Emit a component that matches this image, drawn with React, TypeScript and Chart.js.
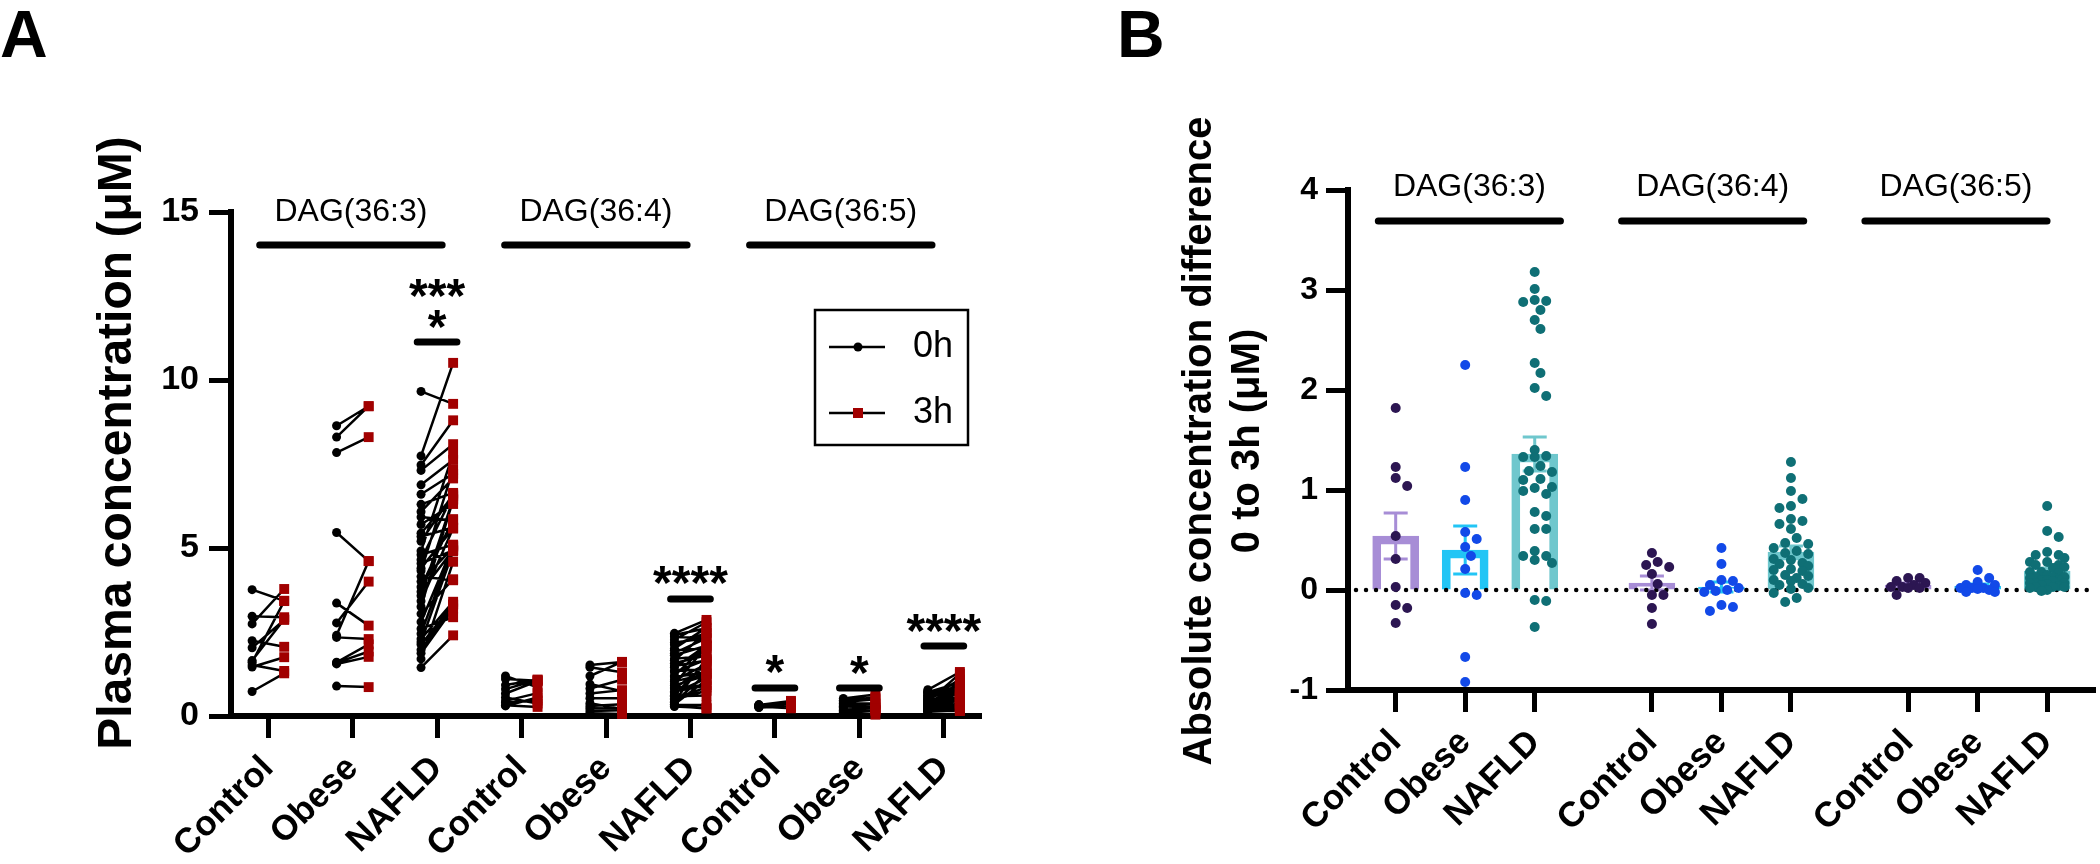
import React, { useEffect, useRef } from 'react';
import { Chart, registerables } from 'chart.js';

Chart.register(...registerables);

const FONT = '"Liberation Sans", Arial, sans-serif';

// ---------- labels ----------
const GROUP_NAMES = ['DAG(36:3)', 'DAG(36:4)', 'DAG(36:5)'];
const COHORTS = ['Control', 'Obese', 'NAFLD'];
const LEGEND_LABELS = ['0h', '3h'];
const Y_TITLE_A = 'Plasma concentration (\u03bcM)';
const Y_TITLE_B = ['Absolute concentration difference', '0 to 3h (\u03bcM)'];

// ---------- Panel A: paired plasma concentrations (uM) ----------
const DAG363_CONTROL_0H = [3.76, 2.97, 2.74, 2.24, 2.03, 1.65, 1.60, 1.52, 1.46, 0.73];
const DAG363_CONTROL_3H = [3.43, 2.94, 3.78, 2.06, 2.86, 2.88, 3.42, 1.34, 1.75, 1.27];
const DAG363_OBESE_0H = [8.64, 8.30, 7.84, 5.46, 2.40, 2.77, 3.36, 1.60, 1.58, 1.55, 2.34, 0.89];
const DAG363_OBESE_3H = [9.22, 9.22, 8.30, 4.61, 4.61, 4.00, 2.69, 2.13, 1.92, 1.76, 2.29, 0.86];
const DAG363_NAFLD_0H = [9.66, 7.74, 7.47, 7.31, 6.88, 6.60, 6.30, 6.08, 5.92, 5.70, 5.44, 5.34, 5.20, 4.91, 4.80, 4.65, 4.54, 4.40, 4.32, 4.15, 4.00, 3.84, 3.70, 3.58, 3.42, 3.25, 3.04, 2.80, 2.60, 2.45, 2.29, 2.20, 2.13, 1.97, 1.87, 1.70, 1.44];
const DAG363_NAFLD_3H = [9.29, 10.51, 8.80, 8.09, 7.62, 7.21, 6.64, 7.07, 5.82, 6.31, 6.54, 5.61, 6.60, 7.81, 5.10, 6.59, 4.93, 5.58, 7.33, 4.04, 5.02, 5.86, 4.94, 6.46, 5.59, 6.43, 4.07, 5.07, 2.94, 5.06, 3.40, 4.90, 3.32, 3.31, 3.20, 4.59, 2.40];

const DAG364_CONTROL_0H = [1.19, 1.10, 0.92, 0.80, 0.67, 0.55, 0.45, 0.40, 0.32, 0.30];
const DAG364_CONTROL_3H = [0.85, 1.05, 1.08, 1.08, 1.04, 0.37, 0.68, 0.46, 0.27, 0.55];
const DAG364_OBESE_0H = [1.52, 1.45, 1.19, 0.95, 0.82, 0.67, 0.53, 0.38, 0.30, 0.23, 0.15, 0.08];
const DAG364_OBESE_3H = [1.61, 1.30, 1.61, 0.74, 1.08, 0.77, 0.53, 0.21, 0.35, 0.22, 0.17, 0.06];
const DAG364_NAFLD_0H = [2.46, 2.41, 2.35, 2.27, 2.19, 2.12, 2.01, 1.96, 1.87, 1.81, 1.70, 1.66, 1.57, 1.49, 1.44, 1.35, 1.31, 1.20, 1.16, 1.07, 1.03, 0.95, 0.91, 0.84, 0.81, 0.73, 0.69, 0.62, 0.59, 0.52, 0.49, 0.43, 0.41, 0.35, 0.33, 0.30, 0.28];
const DAG364_NAFLD_3H = [2.86, 2.61, 2.32, 2.79, 2.31, 2.47, 2.63, 2.02, 2.32, 2.09, 1.80, 2.49, 1.81, 1.65, 2.10, 1.39, 1.68, 2.10, 1.30, 1.54, 1.25, 2.07, 1.21, 0.92, 1.51, 0.91, 1.12, 1.61, 0.61, 0.85, 0.75, 1.71, 1.26, 1.07, 0.33, 0.22, 0.24];

const DAG365_CONTROL_0H = [0.31, 0.29, 0.33, 0.27, 0.30, 0.32, 0.26, 0.28, 0.34, 0.25];
const DAG365_CONTROL_3H = [0.40, 0.41, 0.45, 0.32, 0.37, 0.35, 0.28, 0.23, 0.36, 0.28];
const DAG365_OBESE_0H = [0.52, 0.47, 0.42, 0.37, 0.33, 0.29, 0.25, 0.21, 0.17, 0.13, 0.10, 0.06];
const DAG365_OBESE_3H = [0.64, 0.55, 0.50, 0.37, 0.35, 0.27, 0.23, 0.23, 0.19, 0.18, 0.15, 0.04];
const DAG365_NAFLD_0H = [0.78, 0.74, 0.71, 0.69, 0.66, 0.62, 0.60, 0.57, 0.55, 0.52, 0.50, 0.48, 0.46, 0.44, 0.42, 0.40, 0.38, 0.36, 0.35, 0.33, 0.31, 0.30, 0.28, 0.27, 0.25, 0.24, 0.23, 0.21, 0.20, 0.19, 0.18, 0.17, 0.16, 0.15, 0.14, 0.14, 0.13];
const DAG365_NAFLD_3H = [1.31, 0.84, 0.99, 0.72, 1.01, 0.69, 0.82, 0.70, 0.93, 0.54, 1.09, 0.66, 0.53, 0.69, 1.26, 0.43, 0.55, 0.68, 0.45, 0.56, 0.36, 0.45, 0.56, 0.26, 0.60, 0.36, 0.48, 0.28, 0.38, 0.28, 0.38, 0.20, 0.29, 0.15, 0.18, 0.20, 0.16];

// ---------- Panel B: absolute difference 0 to 3h (uM) ----------
const DIFF363_CONTROL = [1.82, 1.23, 1.12, 1.04, 0.54, 0.31, 0.03, -0.15, -0.18, -0.33];
const DIFF363_OBESE = [2.25, 1.23, 0.90, 0.58, 0.51, 0.43, 0.34, 0.21, -0.05, -0.03, -0.67, -0.92];
const DIFF363_NAFLD = [3.18, 3.01, 2.89, 2.88, 2.90, 2.80, 2.70, 2.61, 2.27, 2.17, 2.02, 1.94, 1.40, 1.34, 1.33, 1.33, 1.24, 1.19, 1.18, 1.10, 1.11, 1.02, 1.03, 0.99, 0.96, 0.74, 0.78, 0.61, 0.61, 0.39, 0.34, 0.34, 0.30, 0.27, -0.10, -0.11, -0.37];
const DIFF364_CONTROL = [0.37, 0.25, 0.28, 0.23, 0.16, 0.06, -0.05, -0.05, -0.18, -0.34];
const DIFF364_OBESE = [0.42, 0.26, 0.10, 0.09, 0.05, 0.02, 0.00, -0.01, -0.02, -0.15, -0.17, -0.21];
const DIFF364_NAFLD = [1.28, 1.12, 0.99, 0.91, 0.84, 0.82, 0.71, 0.69, 0.66, 0.61, 0.52, 0.47, 0.46, 0.42, 0.39, 0.37, 0.36, 0.31, 0.30, 0.27, 0.26, 0.24, 0.21, 0.20, 0.19, 0.15, 0.14, 0.12, 0.10, 0.09, 0.06, 0.05, 0.02, 0.01, -0.03, -0.08, -0.12];
const DIFF365_CONTROL = [0.12, 0.12, 0.09, 0.07, 0.05, 0.03, 0.03, 0.02, 0.02, -0.05];
const DIFF365_OBESE = [0.20, 0.12, 0.08, 0.05, 0.05, 0.02, 0.02, 0.02, 0.01, 0.00, -0.02, -0.02];
const DIFF365_NAFLD = [0.84, 0.59, 0.53, 0.38, 0.35, 0.35, 0.32, 0.28, 0.28, 0.25, 0.25, 0.23, 0.22, 0.18, 0.18, 0.17, 0.15, 0.13, 0.13, 0.13, 0.12, 0.10, 0.10, 0.10, 0.09, 0.07, 0.07, 0.07, 0.06, 0.05, 0.04, 0.03, 0.03, 0.03, 0.02, 0.00, -0.01];

// bar heights (mean) and error bars (SEM)
const DIFF_MEANS = [0.54, 0.40, 1.36, 0.07, 0.03, 0.38, 0.05, 0.04, 0.19];
const DIFF_SEMS = [0.23, 0.24, 0.17, 0.07, 0.05, 0.06, 0.02, 0.02, 0.03];

// ---------- styles ----------
const RED = '#a10000';
const BAR_COLORS = ['#a78dd6', '#22c5f5', '#6fc7cd'];
const DOT_COLORS = ['#2c1652', '#1249e8', '#0f6f75'];

const A_POS = [0, 1, 2, 3, 4, 5, 6, 7, 8];
const B_POS = [0, 1, 2, 3.686, 4.686, 5.686, 7.372, 8.372, 9.372];

const PAIRS_A = [
  [DAG363_CONTROL_0H, DAG363_CONTROL_3H], [DAG363_OBESE_0H, DAG363_OBESE_3H], [DAG363_NAFLD_0H, DAG363_NAFLD_3H],
  [DAG364_CONTROL_0H, DAG364_CONTROL_3H], [DAG364_OBESE_0H, DAG364_OBESE_3H], [DAG364_NAFLD_0H, DAG364_NAFLD_3H],
  [DAG365_CONTROL_0H, DAG365_CONTROL_3H], [DAG365_OBESE_0H, DAG365_OBESE_3H], [DAG365_NAFLD_0H, DAG365_NAFLD_3H],
];
const DIFFS_B = [
  DIFF363_CONTROL, DIFF363_OBESE, DIFF363_NAFLD,
  DIFF364_CONTROL, DIFF364_OBESE, DIFF364_NAFLD,
  DIFF365_CONTROL, DIFF365_OBESE, DIFF365_NAFLD,
];

// significance marks of panel A (stars text lines, y of text centres and bar)
const SIG_A = [
  { pos: 2, stars: [['***', 12.83], ['*', 11.93]], bar: 11.13 },
  { pos: 5, stars: [['****', 4.29]], bar: 3.48 },
  { pos: 6, stars: [['*', 1.64]], bar: 0.83 },
  { pos: 7, stars: [['*', 1.61]], bar: 0.83 },
  { pos: 8, stars: [['****', 2.86]], bar: 2.08 },
];

function font(size: number, weight = 'normal') {
  return `${weight} ${size}px ${FONT}`;
}

// simple beeswarm: spreads overlapping points sideways (limited width)
function swarm(values: number[], center: number, rPx: number, xUnitPx: number, yUnitPx: number) {
  const idx = values.map((_, i) => i).sort((a, b) => values[b] - values[a]);
  const placed: { x: number; y: number }[] = [];
  const res: { x: number; y: number }[] = new Array(values.length);
  const d = 2 * rPx + 0.5;
  const step = d * 0.55;
  const maxOff = 22;
  for (const i of idx) {
    const yp = values[i] * yUnitPx;
    let off = 0;
    let bestScore = -1;
    for (let k = 0; k < 80; k++) {
      const cand = (k % 2 === 1 ? 1 : -1) * Math.ceil(k / 2) * step;
      if (Math.abs(cand) > maxOff) break;
      let minD = Infinity;
      for (const p of placed) minD = Math.min(minD, Math.hypot(p.x - cand, p.y - yp));
      if (minD >= d) { off = cand; bestScore = Infinity; break; }
      if (minD > bestScore) { bestScore = minD; off = cand; }
    }
    placed.push({ x: off, y: yp });
    res[i] = { x: center + off / xUnitPx, y: values[i] };
  }
  return res;
}

function axisCommon(size: number) {
  return {
    offset: false,
    grid: { display: true, offset: false, drawOnChartArea: false, drawTicks: true, tickLength: 22, tickWidth: 5, tickColor: '#000', color: '#000' },
    border: { display: true, color: '#000', width: 6 },
    ticks: { color: '#000', font: { family: FONT, size, weight: 'bold' as const } },
  };
}

function xLabelTicks(cm: any) {
  return { ...cm.ticks, font: { family: FONT, size: 35, weight: 'bold' }, autoSkip: false, minRotation: 45, maxRotation: 45, padding: 10, callback: (_v: any, i: number) => COHORTS[i % 3] };
}

function configA(): any {
  const OFF = 0.19;
  const pts0: any[] = [];
  const pts3: any[] = [];
  const lines: any[] = [];
  PAIRS_A.forEach(([a, b], gi) => {
    const cx = A_POS[gi];
    a.forEach((v, k) => {
      pts0.push({ x: cx - OFF, y: v });
      pts3.push({ x: cx + OFF, y: b[k] });
      lines.push({ x: cx - OFF, y: v }, { x: cx + OFF, y: b[k] }, { x: cx, y: null });
    });
  });

  const annot = {
    id: 'annotA',
    afterDraw(chart: any) {
      const { ctx, scales } = chart;
      const x = scales.x;
      const y = scales.y;
      ctx.save();
      ctx.fillStyle = '#000';
      ctx.strokeStyle = '#000';
      ctx.font = font(66, 'bold');
      ctx.textAlign = 'left';
      ctx.textBaseline = 'alphabetic';
      ctx.fillText('A', 0, 57);
      ctx.save();
      ctx.translate(118, 443);
      ctx.rotate(-Math.PI / 2);
      ctx.font = font(48, 'bold');
      ctx.textAlign = 'center';
      ctx.textBaseline = 'middle';
      ctx.fillText(Y_TITLE_A, 0, 0);
      ctx.restore();
      const unit = x.getPixelForValue(1) - x.getPixelForValue(0);
      const centres = [0.98, 3.88, 6.78];
      centres.forEach((c, i) => {
        const px = x.getPixelForValue(c);
        ctx.font = font(32);
        ctx.textAlign = 'center';
        ctx.textBaseline = 'middle';
        ctx.fillText(GROUP_NAMES[i], px, y.getPixelForValue(15.0));
        ctx.lineWidth = 7;
        ctx.lineCap = 'round';
        ctx.beginPath();
        const yl = y.getPixelForValue(14.02);
        ctx.moveTo(px - 1.08 * unit, yl);
        ctx.lineTo(px + 1.08 * unit, yl);
        ctx.stroke();
      });
      SIG_A.forEach((s) => {
        const px = x.getPixelForValue(s.pos);
        ctx.lineWidth = 7;
        ctx.lineCap = 'round';
        ctx.beginPath();
        const yb = y.getPixelForValue(s.bar);
        ctx.moveTo(px - 0.235 * unit, yb);
        ctx.lineTo(px + 0.235 * unit, yb);
        ctx.stroke();
        ctx.font = font(48, 'bold');
        ctx.textAlign = 'center';
        ctx.textBaseline = 'alphabetic';
        s.stars.forEach(([t, v]) => {
          ctx.fillText(t as string, px, y.getPixelForValue(v as number) + 0.57 * 48);
        });
      });
      const ca = chart.chartArea;
      const lx = ca.right - 166;
      const ly = ca.top + 98;
      ctx.lineWidth = 2.5;
      ctx.strokeRect(lx, ly, 153, 135);
      const rows = [ly + 37, ly + 103];
      rows.forEach((ry, i) => {
        ctx.lineWidth = 2.5;
        ctx.lineCap = 'butt';
        ctx.beginPath();
        ctx.moveTo(lx + 14, ry);
        ctx.lineTo(lx + 70, ry);
        ctx.stroke();
        if (i === 0) {
          ctx.beginPath();
          ctx.arc(lx + 43, ry, 4.5, 0, Math.PI * 2);
          ctx.fill();
        } else {
          ctx.fillStyle = RED;
          ctx.fillRect(lx + 38, ry - 5, 10, 10);
          ctx.fillStyle = '#000';
        }
        ctx.font = font(36);
        ctx.textAlign = 'left';
        ctx.textBaseline = 'middle';
        ctx.fillText(LEGEND_LABELS[i], lx + 98, ry);
      });
      ctx.restore();
    },
  };

  const cA = axisCommon(34);
  return {
    type: 'scatter',
    data: {
      datasets: [
        { type: 'scatter', label: '3h', data: pts3, pointStyle: 'rect', pointRadius: 7, backgroundColor: RED, borderColor: RED, borderWidth: 0, order: 0, clip: false },
        { type: 'scatter', label: '0h', data: pts0, pointStyle: 'circle', pointRadius: 4.5, backgroundColor: '#000', borderColor: '#000', borderWidth: 0, order: 1, clip: false },
        { type: 'line', label: 'pairs', data: lines, borderColor: '#000', borderWidth: 2.5, pointRadius: 0, spanGaps: false, tension: 0, order: 2, clip: false },
      ],
    },
    options: {
      responsive: true,
      maintainAspectRatio: false,
      animation: false,
      events: [],
      layout: { padding: { left: 131, right: 69, top: 212, bottom: 0 } },
      plugins: { legend: { display: false }, tooltip: { enabled: false } },
      scales: {
        x: {
          type: 'linear',
          min: -0.44,
          max: 8.44,
          offset: false,
          afterBuildTicks: (s: any) => { s.ticks = A_POS.map((v) => ({ value: v })); },
          afterFit: (s: any) => { s.height = 148; },
          grid: cA.grid,
          border: cA.border,
          ticks: xLabelTicks(cA),
        },
        y: {
          type: 'linear',
          min: 0,
          max: 15,
          afterFit: (s: any) => { s.width = 100; },
          grid: cA.grid,
          border: cA.border,
          ticks: { ...cA.ticks, stepSize: 5, padding: 10 },
        },
      },
    },
    plugins: [annot],
  };
}

function configB(): any {
  const X_UNIT = 69.8;
  const Y_UNIT = 100;
  const R = 5;
  const scatterSets = DIFFS_B.map((vals, i) => ({
    type: 'scatter',
    label: `${GROUP_NAMES[Math.floor(i / 3)]} ${COHORTS[i % 3]}`,
    data: swarm(vals, B_POS[i], R, X_UNIT, Y_UNIT),
    pointStyle: 'circle',
    pointRadius: R,
    backgroundColor: DOT_COLORS[i % 3],
    borderWidth: 0,
    order: 0,
    clip: false,
  }));
  const barSet = {
    type: 'bar',
    label: 'mean',
    data: B_POS.map((p, i) => ({ x: p, y: DIFF_MEANS[i] })),
    backgroundColor: 'rgba(255,255,255,0)',
    borderColor: B_POS.map((_, i) => BAR_COLORS[i % 3]),
    borderWidth: 8,
    borderSkipped: 'start',
    barThickness: 46,
    order: 10,
  };

  const annot = {
    id: 'annotB',
    afterDatasetDraw(chart: any, args: any) {
      if (args.meta.type !== 'bar') return;
      const { ctx, scales, chartArea } = chart;
      const x = scales.x;
      const y = scales.y;
      ctx.save();
      B_POS.forEach((p, i) => {
        const px = x.getPixelForValue(p);
        const yt = y.getPixelForValue(DIFF_MEANS[i] + DIFF_SEMS[i]);
        const yb = y.getPixelForValue(DIFF_MEANS[i] - DIFF_SEMS[i]);
        ctx.strokeStyle = BAR_COLORS[i % 3];
        ctx.lineWidth = 3;
        ctx.beginPath();
        ctx.moveTo(px, yt); ctx.lineTo(px, yb);
        ctx.moveTo(px - 12, yt); ctx.lineTo(px + 12, yt);
        ctx.moveTo(px - 12, yb); ctx.lineTo(px + 12, yb);
        ctx.stroke();
      });
      const y0 = y.getPixelForValue(0);
      ctx.strokeStyle = '#000';
      ctx.lineWidth = 4.5;
      ctx.lineCap = 'round';
      ctx.setLineDash([0.01, 10]);
      ctx.beginPath();
      ctx.moveTo(chartArea.left + 8, y0);
      ctx.lineTo(chartArea.right, y0);
      ctx.stroke();
      ctx.restore();
    },
    afterDraw(chart: any) {
      const { ctx, scales } = chart;
      const x = scales.x;
      const y = scales.y;
      ctx.save();
      ctx.fillStyle = '#000';
      ctx.strokeStyle = '#000';
      ctx.font = font(66, 'bold');
      ctx.textAlign = 'left';
      ctx.textBaseline = 'alphabetic';
      ctx.fillText('B', 67, 57);
      ctx.font = font(40, 'bold');
      ctx.textAlign = 'center';
      ctx.textBaseline = 'middle';
      [150, 198].forEach((cx, i) => {
        ctx.save();
        ctx.translate(cx, 441);
        ctx.rotate(-Math.PI / 2);
        ctx.fillText(Y_TITLE_B[i], 0, 0);
        ctx.restore();
      });
      const unit = x.getPixelForValue(1) - x.getPixelForValue(0);
      const centres = [1.06, 4.56, 8.06];
      centres.forEach((c, i) => {
        const px = x.getPixelForValue(c);
        ctx.font = font(32);
        ctx.textAlign = 'center';
        ctx.textBaseline = 'middle';
        ctx.fillText(GROUP_NAMES[i], px, y.getPixelForValue(4.03));
        ctx.lineWidth = 7;
        ctx.lineCap = 'round';
        ctx.beginPath();
        const yl = y.getPixelForValue(3.69);
        ctx.moveTo(px - 1.31 * unit, yl);
        ctx.lineTo(px + 1.31 * unit, yl);
        ctx.stroke();
      });
      ctx.restore();
    },
  };

  const cB = axisCommon(32);
  return {
    type: 'scatter',
    data: { datasets: [...scatterSets, barSet] },
    options: {
      responsive: true,
      maintainAspectRatio: false,
      animation: false,
      events: [],
      layout: { padding: { left: 198, right: 2, top: 190, bottom: 0 } },
      plugins: { legend: { display: false }, tooltip: { enabled: false } },
      scales: {
        x: {
          type: 'linear',
          min: -0.686,
          max: 10.06,
          offset: false,
          afterBuildTicks: (s: any) => { s.ticks = B_POS.map((v) => ({ value: v })); },
          afterFit: (s: any) => { s.height = 174; },
          grid: cB.grid,
          border: cB.border,
          ticks: xLabelTicks(cB),
        },
        y: {
          type: 'linear',
          min: -1,
          max: 4,
          beginAtZero: false,
          afterFit: (s: any) => { s.width = 100; },
          grid: cB.grid,
          border: cB.border,
          ticks: { ...cB.ticks, stepSize: 1, padding: 8 },
        },
      },
    },
    plugins: [annot],
  };
}

export default function App() {
  const refA = useRef<HTMLCanvasElement>(null);
  const refB = useRef<HTMLCanvasElement>(null);
  useEffect(() => {
    const a = new Chart(refA.current as HTMLCanvasElement, configA());
    const b = new Chart(refB.current as HTMLCanvasElement, configB());
    return () => {
      a.destroy();
      b.destroy();
    };
  }, []);
  return (
    <div style={{ position: 'fixed', left: 0, top: 0, width: 2100, height: 864, background: '#fff' }}>
      <div style={{ position: 'absolute', left: 0, top: 0, width: 1050, height: 864 }}>
        <canvas ref={refA} />
      </div>
      <div style={{ position: 'absolute', left: 1050, top: 0, width: 1050, height: 864 }}>
        <canvas ref={refB} />
      </div>
    </div>
  );
}
